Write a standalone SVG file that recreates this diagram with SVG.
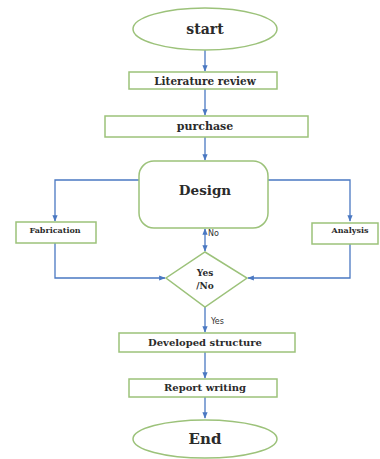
<svg xmlns="http://www.w3.org/2000/svg" width="380" height="459" viewBox="0 0 380 459">
<defs>
<marker id="ah" viewBox="0 0 10 10" refX="9" refY="5" markerWidth="5" markerHeight="5" orient="auto-start-reverse">
<path d="M0,1 L10,5 L0,9 z" fill="#4a78c2"/>
</marker>
<style>
.n{fill:#fff;stroke:#9cc27a;stroke-width:1.5}
.c{fill:none;stroke:#4a78c2;stroke-width:1.3}
.t{font-family:"DejaVu Serif","Liberation Serif",serif;font-weight:bold;fill:#2b2b2b;text-anchor:middle}
.l{font-family:"DejaVu Sans","Liberation Sans",sans-serif;fill:#333;font-size:8px}
</style>
</defs>
<rect width="380" height="459" fill="#fff"/>
<g id="connectors">
<path class="c" d="M205,50 V71" marker-end="url(#ah)"/>
<path class="c" d="M205,89 V115" marker-end="url(#ah)"/>
<path class="c" d="M205,137 V160" marker-end="url(#ah)"/>
<path class="c" d="M139,180 H55 V221" marker-end="url(#ah)"/>
<path class="c" d="M268,180 H350 V221" marker-end="url(#ah)"/>
<path class="c" d="M55,243 V278 H165" marker-end="url(#ah)"/>
<path class="c" d="M350,244 V278 H248" marker-end="url(#ah)"/>
<path class="c" d="M205,229 V251" marker-start="url(#ah)" marker-end="url(#ah)"/>
<path class="c" d="M205,307 V332" marker-end="url(#ah)"/>
<path class="c" d="M205,352 V378" marker-end="url(#ah)"/>
<path class="c" d="M205,397 V418" marker-end="url(#ah)"/>
<text class="l" x="208" y="236">No</text>
<text class="l" x="211" y="324">Yes</text>
</g>
<g id="start">
<ellipse class="n" cx="205" cy="29" rx="72" ry="21"/>
<text class="t" x="205" y="34" font-size="14">start</text>
</g>
<g id="literature">
<rect class="n" x="129" y="72" width="148" height="17"/>
<text class="t" x="205" y="85" font-size="10.5">Literature review</text>
</g>
<g id="purchase">
<rect class="n" x="105" y="116" width="203" height="21"/>
<text class="t" x="205" y="130" font-size="11">purchase</text>
</g>
<g id="design">
<rect class="n" x="139" y="161" width="129" height="67" rx="15"/>
<text class="t" x="205" y="195" font-size="13.5">Design</text>
</g>
<g id="fabrication">
<rect class="n" x="16" y="222" width="80" height="21"/>
<text class="t" x="55" y="233" font-size="8">Fabrication</text>
</g>
<g id="analysis">
<rect class="n" x="312" y="223" width="66" height="21"/>
<text class="t" x="350" y="233" font-size="8">Analysis</text>
</g>
<g id="decision">
<polygon class="n" points="205,252 247,278 205,307 166,278"/>
<text class="t" x="205" y="276" font-size="9">Yes</text>
<text class="t" x="205" y="289" font-size="9">/No</text>
</g>
<g id="developed">
<rect class="n" x="119" y="333" width="176" height="19"/>
<text class="t" x="205" y="346" font-size="10">Developed structure</text>
</g>
<g id="report">
<rect class="n" x="129" y="379" width="148" height="18"/>
<text class="t" x="205" y="391" font-size="10">Report writing</text>
</g>
<g id="end">
<ellipse class="n" cx="205" cy="439" rx="72" ry="19"/>
<text class="t" x="205" y="444" font-size="15">End</text>
</g>
</svg>
